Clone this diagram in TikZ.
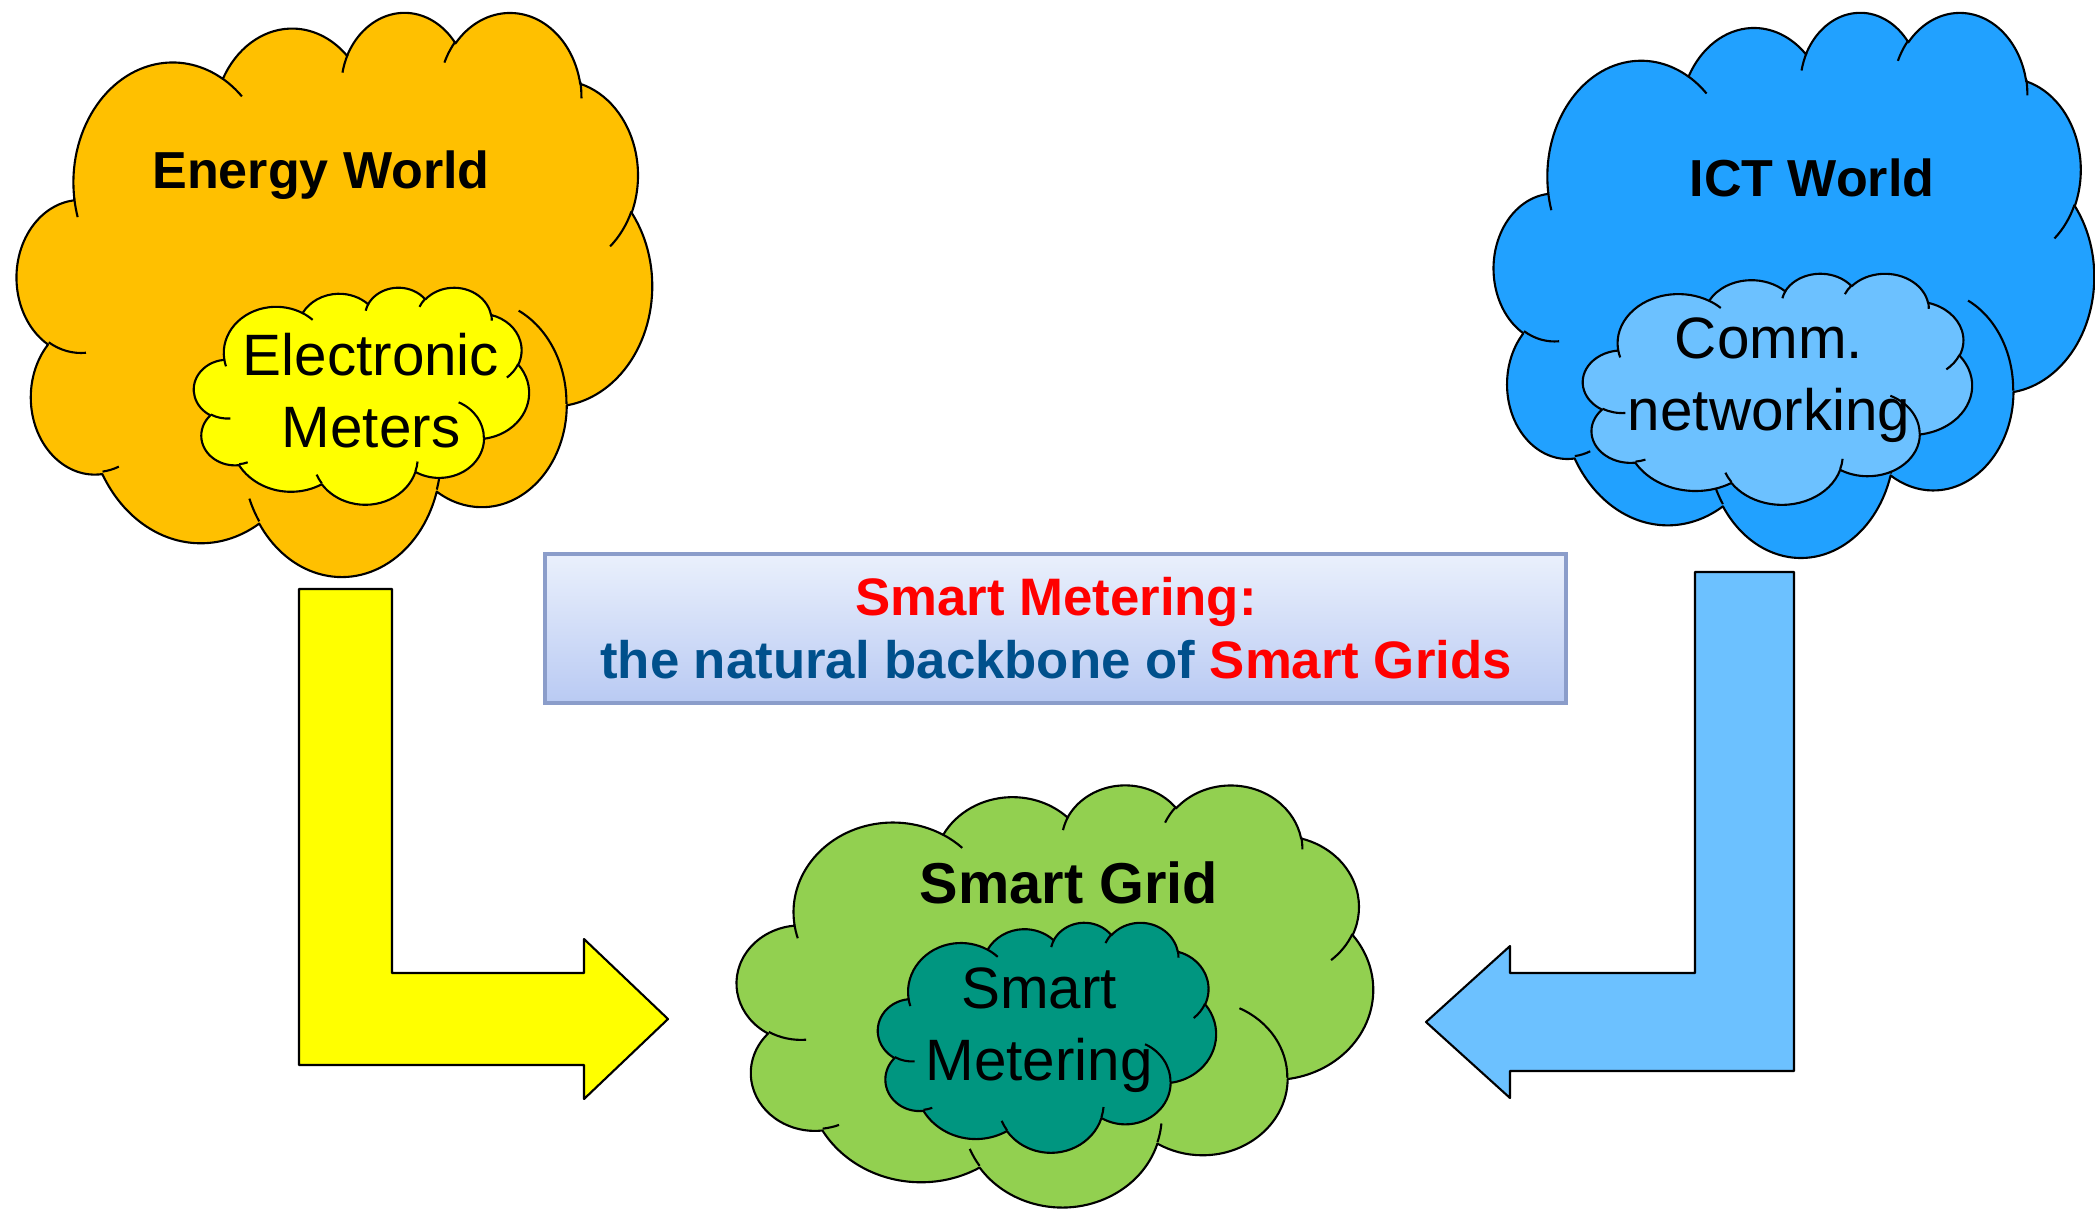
\documentclass[tikz,border=0pt]{standalone}
\usepackage{fontspec}
\setmainfont{Liberation Sans}
\usetikzlibrary{positioning}

\definecolor{energy}{HTML}{FFC000}
\definecolor{meter}{HTML}{FFFF00}
\definecolor{ict}{HTML}{21A1FF}
\definecolor{comm}{HTML}{6CC1FF}
\definecolor{grid}{HTML}{92D050}
\definecolor{metering}{HTML}{009680}
\definecolor{boxtop}{HTML}{EAF0FC}
\definecolor{boxbot}{HTML}{B9CAF3}
\definecolor{boxline}{HTML}{8B9DCA}
\definecolor{backbone}{HTML}{00508C}

\tikzset{
  outline/.style={draw=black, line width=0.6pt, line join=round},
  worldtext/.style={font=\fontsize{14.8}{18}\selectfont\bfseries},
  innertext/.style={font=\fontsize{16.6}{20.5}\selectfont, align=center},
}

% one arc of a cloud, start and sweep angles as PowerPoint gives them
\newcommand\puff[4]{\pgfextra{%
    \pgfmathsetmacro\pa{atan2(#1*sin(#3),#2*cos(#3))}%
    \pgfmathsetmacro\pb{atan2(#1*sin(#3+#4),#2*cos(#3+#4))}%
    \pgfmathsetmacro\pd{mod(\pb-\pa+720,360)}}
  arc[start angle=\pa, delta angle=\pd, x radius=#1, y radius=#2]}

% cloud: left, top, width, height, fill
\newcommand\cloud[5]{%
\begin{scope}[shift={(#1,#2)}, xscale=#3/432, yscale=#4/432]
\path[outline, fill=#5] (39,143.7)
  \puff{67.53}{91.90}{-190.4875}{123.7805}
  \puff{53.33}{72.67}{-144.1024}{89.9452}
  \puff{43.65}{59.45}{-145.8079}{99.7230}
  \puff{48.57}{65.95}{-130.9861}{117.2417}
  \puff{53.33}{72.73}{-78.7089}{109.0269}
  \puff{67.75}{92.20}{-46.2673}{130.2690}
  \puff{57.85}{78.67}{0.6250}{114.0333}
  \puff{67.52}{92.15}{22.4516}{115.1726}
  \puff{77.20}{105.43}{66.2426}{75.7110}
  \puff{43.60}{59.18}{-274.9421}{146.7356}
  \puff{43.45}{59.45}{-246.8285}{152.5189} -- cycle;
\path[outline]
  (46.93,261.77) \puff{43.45}{59.45}{86.7420}{26.4295}
  (69.28,348.99) \puff{43.60}{59.18}{73.6105}{11.4475}
  (164.78,390.90) \puff{67.52}{92.15}{137.6242}{14.0811}
  (288.27,347.51) \puff{67.52}{92.15}{6.4533}{15.9984}
  (341.29,229.54) \puff{57.85}{78.67}{-70.2924}{70.9174}
  (417.98,153.54) \puff{53.33}{72.73}{30.3180}{27.7515}
  (383.24,54.26) \puff{48.57}{65.95}{-13.7443}{14.8589}
  (290.78,39.52) \puff{48.57}{65.95}{-149.1815}{18.1954}
  (221.41,47.20) \puff{43.65}{59.45}{-163.4943}{17.6864}
  (140.00,51.92) \puff{67.53}{91.90}{-66.7070}{12.3194}
  (41.27,157.89) \puff{67.53}{91.90}{157.6544}{11.8582};
\end{scope}}

\begin{document}
\begin{tikzpicture}[x=0.01cm, y=-0.01cm]
\useasboundingbox (0,0) rectangle (2095,1209);

% the two worlds
\cloud{17}{11}{635}{564}{energy}
\cloud{194}{287}{335}{217}{meter}
\cloud{1494}{11}{600}{545}{ict}
\cloud{1583}{273}{389}{231}{comm}

% where they meet
\cloud{737}{784}{636}{422}{grid}
\cloud{878}{922}{338}{230}{metering}

\node[worldtext] (energyworld) at (321,175) {Energy World};
\node[innertext] (meters) at (371,391) {Electronic\\Meters};
\node[worldtext] (ictworld) at (1812,178) {ICT World};
\node[innertext] (networking) at (1769,380) {Comm.\\networking};
\node[font=\fontsize{16.4}{20}\selectfont\bfseries] (smartgrid) at (1069,883) {Smart Grid};
\node[innertext] (smartmetering) at (1039,1030) {Smart\\Metering};

% the message
\path[draw=boxline, line width=1pt, top color=boxtop, bottom color=boxbot] (545,554) rectangle (1566,703);
\node[font=\fontsize{15}{17.9}\selectfont\bfseries, align=center] (backbone) at (1056,628) {\textcolor{red}{Smart Metering:}\\
  \textcolor{backbone}{the natural backbone of} \textcolor{red}{Smart Grids}};

% block arrows
\path[outline, fill=meter] (299,589) -- (392,589) -- (392,973) -- (584,973) -- (584,939)
  -- (668,1019) -- (584,1099) -- (584,1065) -- (299,1065) -- cycle;
\path[outline, fill=comm] (1695,572) -- (1794,572) -- (1794,1071) -- (1510,1071) -- (1510,1098)
  -- (1426,1022) -- (1510,946) -- (1510,973) -- (1695,973) -- cycle;
\end{tikzpicture}
\end{document}
